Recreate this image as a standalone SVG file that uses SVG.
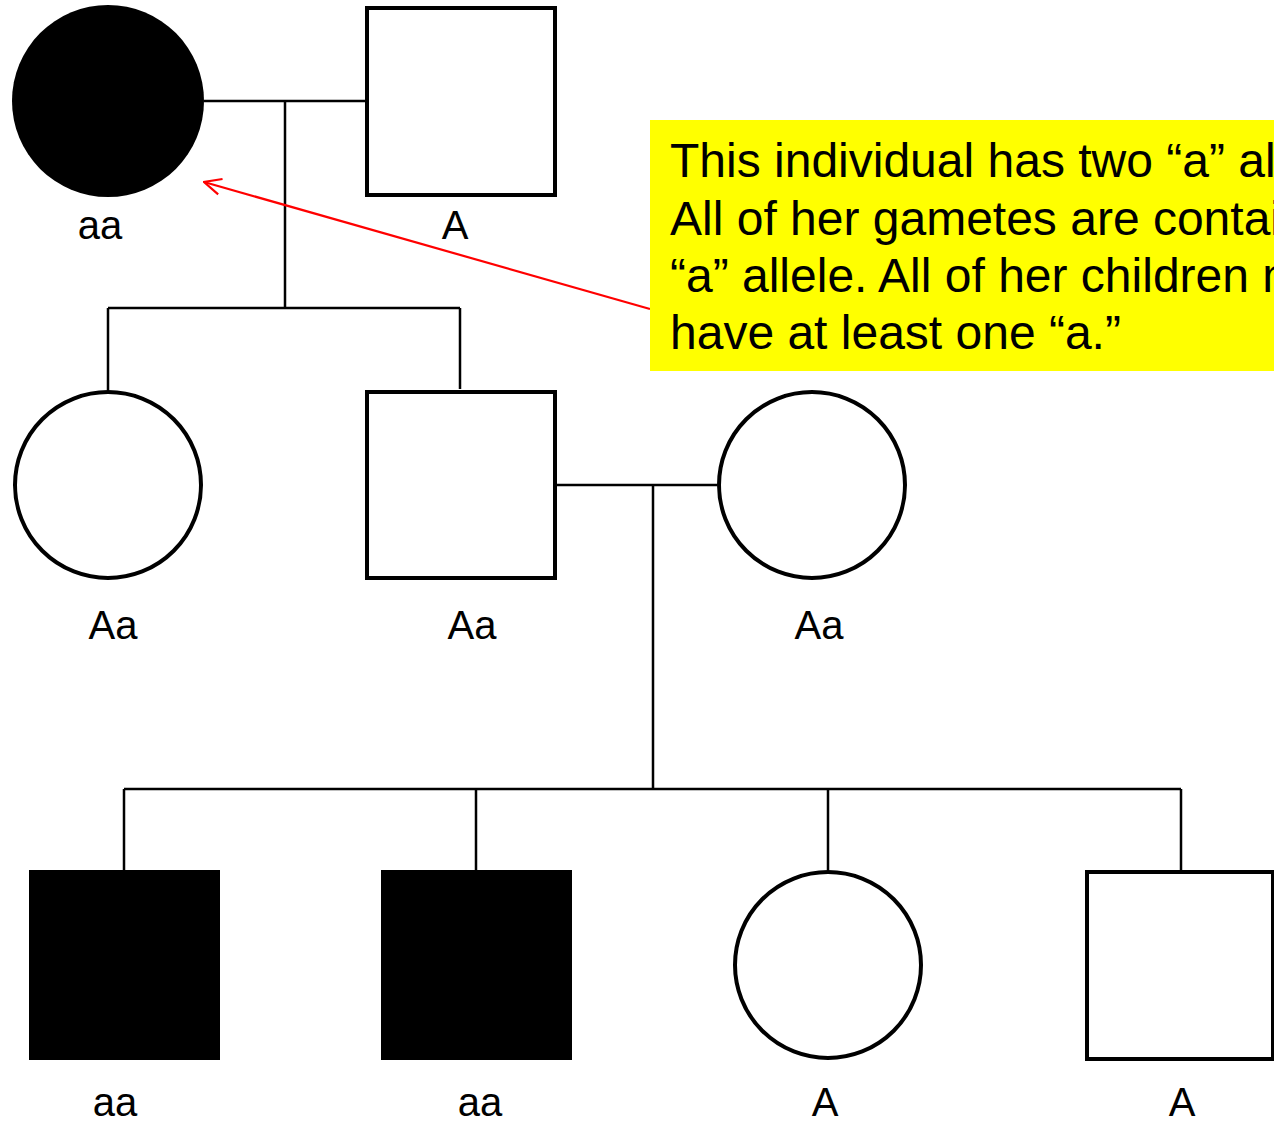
<svg xmlns="http://www.w3.org/2000/svg" width="1274" height="1124" viewBox="0 0 1274 1124">
<defs>
<style>
.line{stroke:#000;stroke-width:2.5;fill:none}
.open{fill:#fff;stroke:#000;stroke-width:4}
.aff{fill:#000;stroke:none}
.lbl{font-family:"Liberation Sans",Arial,sans-serif;font-size:40px;fill:#000;text-anchor:middle}
.note{font-family:"Liberation Sans",Arial,sans-serif;font-size:48px;fill:#000}
</style>
<marker id="arr" viewBox="0 0 20 20" refX="19" refY="10" markerWidth="20" markerHeight="20" markerUnits="userSpaceOnUse" orient="auto">
<path d="M2,2 L19,10 L2,18" fill="none" stroke="#f00" stroke-width="2.2"/>
</marker>
</defs>
<rect width="1274" height="1124" fill="#fff"/>
<g id="connectors">
<path class="line" d="M204,101 H366 M285,101 V308 M108,308 H460 M108,308 V390 M460,308 V389"/>
<path class="line" d="M557,485 H717 M653,485 V789 M124,789 H1181 M124,789 V871 M476,789 V871 M828,789 V870 M1181,789 V871"/>
<line x1="650" y1="309" x2="204" y2="182" stroke="#f00" stroke-width="2.2" marker-end="url(#arr)"/>
</g>
<g id="n1"><circle class="aff" cx="108" cy="101" r="96"/><text class="lbl" x="100" y="239">aa</text></g>
<g id="n2"><rect class="open" x="367" y="8" width="188" height="187"/><text class="lbl" x="455" y="239">A</text></g>
<g id="n3"><circle class="open" cx="108" cy="485" r="93"/><text class="lbl" x="113" y="639">Aa</text></g>
<g id="n4"><rect class="open" x="367" y="392" width="188" height="186"/><text class="lbl" x="472" y="639">Aa</text></g>
<g id="n5"><circle class="open" cx="812" cy="485" r="93"/><text class="lbl" x="819" y="639">Aa</text></g>
<g id="n6"><rect class="aff" x="29" y="870" width="191" height="190"/><text class="lbl" x="115" y="1116">aa</text></g>
<g id="n7"><rect class="aff" x="381" y="870" width="191" height="190"/><text class="lbl" x="480" y="1116">aa</text></g>
<g id="n8"><circle class="open" cx="828" cy="965" r="93"/><text class="lbl" x="825" y="1116">A</text></g>
<g id="n9"><rect class="open" x="1087" y="872" width="186" height="187"/><text class="lbl" x="1182" y="1116">A</text></g>
<g id="callout">
<rect x="650" y="120" width="624" height="251" fill="#ff0"/>
<text class="note" x="670" y="177">This individual has two “a” al</text>
<text class="note" x="670" y="235">All of her gametes are contai</text>
<text class="note" x="670" y="292">“a” allele. All of her children m</text>
<text class="note" x="670" y="349">have at least one “a.”</text>
</g>
</svg>
